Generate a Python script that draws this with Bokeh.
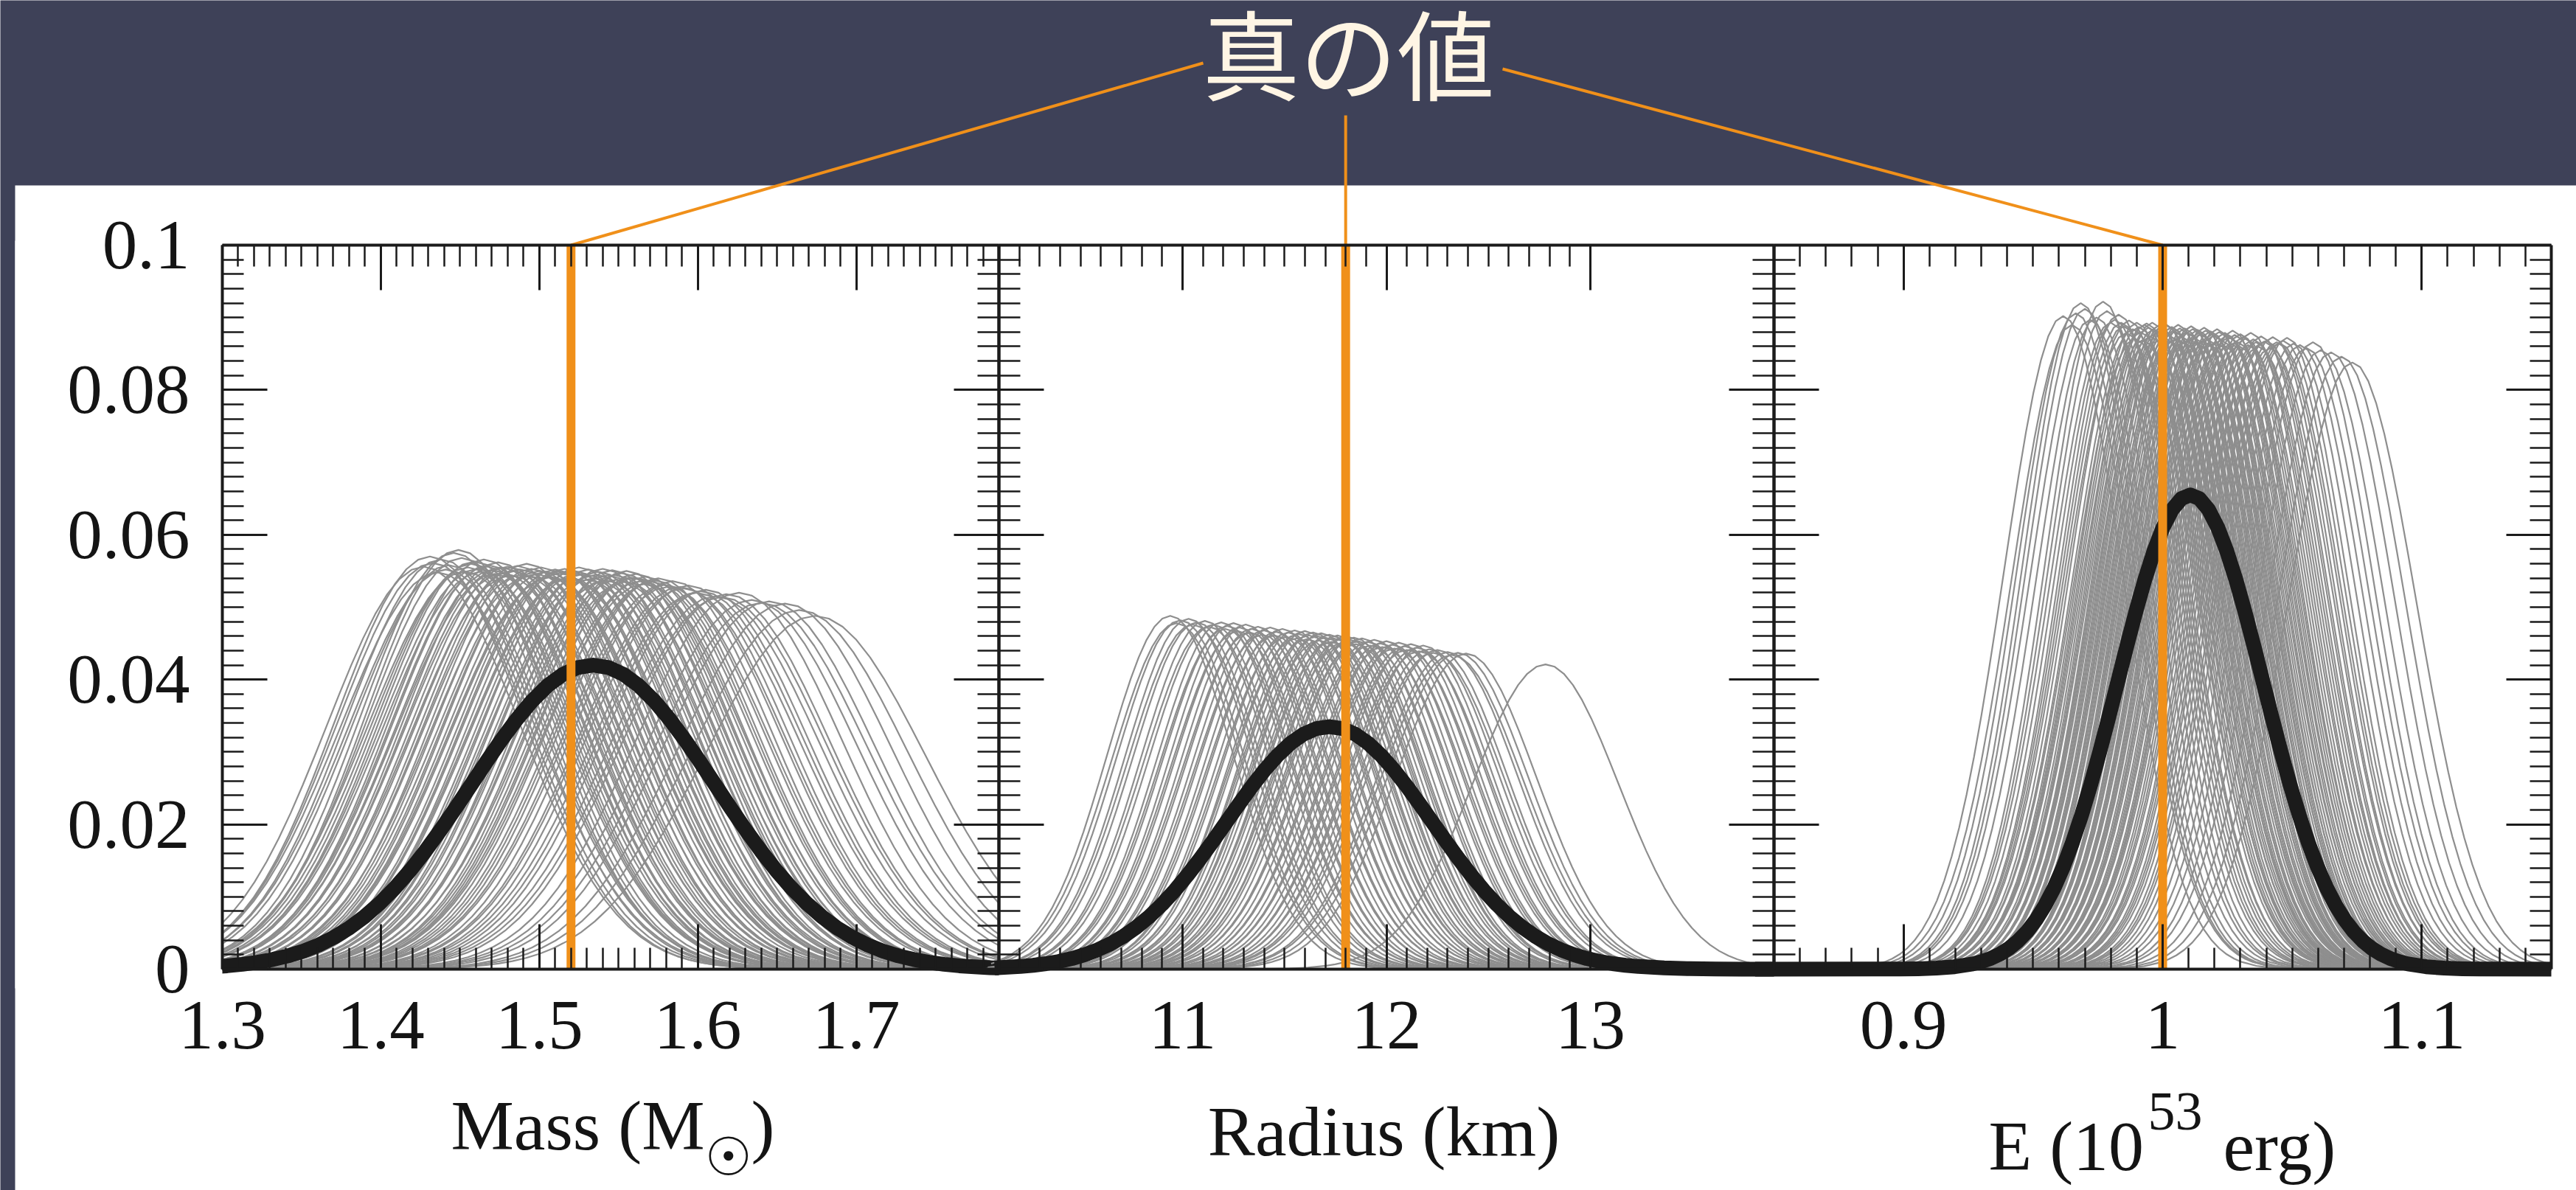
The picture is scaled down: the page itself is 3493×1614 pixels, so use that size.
from bokeh.plotting import figure
from bokeh.models import Range1d, LinearAxis, FixedTicker, ColumnDataSource, CustomJSTickFormatter
from bokeh.core.properties import value
from bokeh.embed import file_html
from bokeh.resources import INLINE

# ---------------- values ----------------
# thin grey curves: peak position and peak height of every curve
mass_peak = [1.427, 1.431, 1.436, 1.441, 1.446, 1.449, 1.453, 1.457, 1.461, 1.465,
             1.468, 1.471, 1.474, 1.477, 1.480, 1.483, 1.486, 1.489, 1.492, 1.495,
             1.498, 1.501, 1.504, 1.507, 1.510, 1.513, 1.516, 1.519, 1.522, 1.525,
             1.528, 1.531, 1.534, 1.537, 1.540, 1.543, 1.546, 1.549, 1.552, 1.555,
             1.558, 1.561, 1.564, 1.567, 1.571, 1.575, 1.579, 1.584, 1.589, 1.594,
             1.599, 1.605, 1.611, 1.618, 1.626, 1.634, 1.645, 1.655, 1.664, 1.674,
             1.433, 1.438, 1.443, 1.451, 1.455, 1.459, 1.463, 1.467, 1.472, 1.476,
             1.482, 1.488, 1.494, 1.500, 1.506, 1.512, 1.518, 1.524, 1.530, 1.536,
             1.542, 1.548, 1.554, 1.560, 1.566, 1.573, 1.581, 1.591, 1.602, 1.615, 1.640]
mass_height = [0.0556, 0.0570, 0.0548, 0.0552, 0.0575, 0.0579, 0.0549, 0.0560, 0.0553, 0.0566,
               0.0558, 0.0551, 0.0562, 0.0547, 0.0556, 0.0550, 0.0557, 0.0545, 0.0560, 0.0553,
               0.0546, 0.0555, 0.0549, 0.0542, 0.0552, 0.0547, 0.0553, 0.0541, 0.0550, 0.0555,
               0.0546, 0.0552, 0.0540, 0.0549, 0.0553, 0.0544, 0.0551, 0.0538, 0.0547, 0.0550,
               0.0541, 0.0546, 0.0536, 0.0542, 0.0535, 0.0540, 0.0531, 0.0536, 0.0528, 0.0530,
               0.0520, 0.0524, 0.0515, 0.0518, 0.0520, 0.0510, 0.0508, 0.0505, 0.0496, 0.0488,
               0.0561, 0.0566, 0.0558, 0.0568, 0.0555, 0.0563, 0.0549, 0.0556, 0.0546, 0.0555,
               0.0544, 0.0552, 0.0543, 0.0550, 0.0541, 0.0549, 0.0540, 0.0546, 0.0538, 0.0545,
               0.0537, 0.0544, 0.0535, 0.0541, 0.0532, 0.0537, 0.0528, 0.0526, 0.0522, 0.0514, 0.0506]

radius_peak = [10.94, 10.99, 11.03, 11.07, 11.11, 11.15, 11.19, 11.22, 11.25, 11.28,
               11.31, 11.34, 11.37, 11.40, 11.43, 11.46, 11.49, 11.52, 11.55, 11.57,
               11.60, 11.62, 11.64, 11.66, 11.68, 11.70, 11.72, 11.74, 11.76, 11.78,
               11.80, 11.82, 11.84, 11.86, 11.88, 11.91, 11.94, 11.97, 12.00, 12.03,
               12.06, 12.09, 12.12, 12.15, 12.18, 12.21, 12.25, 12.30, 12.35, 12.39, 12.78,
               10.97, 11.05, 11.13, 11.21, 11.27, 11.33, 11.39, 11.45, 11.51, 11.56,
               11.61, 11.67, 11.73, 11.79, 11.85, 11.92, 11.98, 12.04, 12.10, 12.16,
               12.23, 12.32]
radius_height = [0.0488, 0.0482, 0.0484, 0.0479, 0.0481, 0.0476, 0.0479, 0.0474, 0.0478, 0.0472,
                 0.0476, 0.0470, 0.0473, 0.0468, 0.0472, 0.0466, 0.0470, 0.0465, 0.0468, 0.0463,
                 0.0467, 0.0461, 0.0465, 0.0460, 0.0464, 0.0458, 0.0462, 0.0457, 0.0461, 0.0456,
                 0.0460, 0.0455, 0.0458, 0.0453, 0.0457, 0.0452, 0.0455, 0.0450, 0.0453, 0.0448,
                 0.0451, 0.0446, 0.0449, 0.0444, 0.0447, 0.0442, 0.0441, 0.0438, 0.0437, 0.0436, 0.0421,
                 0.0478, 0.0476, 0.0473, 0.0470, 0.0467, 0.0465, 0.0462, 0.0461, 0.0459, 0.0457,
                 0.0456, 0.0454, 0.0452, 0.0451, 0.0449, 0.0447, 0.0445, 0.0443, 0.0441, 0.0439,
                 0.0437, 0.0434]

energy_peak = [0.9616, 0.9650, 0.9684, 0.9720, 0.9770, 0.9800, 0.9830, 0.9850, 0.9870, 0.9885,
               0.9900, 0.9915, 0.9930, 0.9945, 0.9960, 0.9972, 0.9985, 0.9997, 1.0010, 1.0022,
               1.0035, 1.0047, 1.0060, 1.0072, 1.0085, 1.0097, 1.0110, 1.0122, 1.0135, 1.0147,
               1.0160, 1.0172, 1.0185, 1.0197, 1.0210, 1.0225, 1.0240, 1.0255, 1.0270, 1.0285,
               1.0300, 1.0320, 1.0340, 1.0360, 1.0380, 1.0400, 1.0425, 1.0450, 1.0480, 1.0530,
               1.0580, 1.0650, 1.0732,
               0.9665, 0.9700, 0.9745, 0.9785, 0.9815, 0.9840, 0.9860, 0.9893, 0.9908, 0.9923,
               0.9938, 0.9952, 0.9966, 0.9979, 0.9991, 1.0004, 1.0016, 1.0029, 1.0041, 1.0054,
               1.0066, 1.0079, 1.0091, 1.0104, 1.0116, 1.0129, 1.0141, 1.0154, 1.0166, 1.0179,
               1.0191, 1.0204, 1.0218, 1.0233, 1.0248, 1.0263, 1.0278, 1.0293, 1.0310, 1.0330,
               1.0350, 1.0370, 1.0392, 1.0415, 1.0440, 1.0465, 1.0505, 1.0555, 1.0610, 1.0690]
energy_height = [0.0902, 0.0890, 0.0920, 0.0897, 0.0922, 0.0893, 0.0904, 0.0888, 0.0896, 0.0884,
                 0.0893, 0.0880, 0.0890, 0.0886, 0.0893, 0.0878, 0.0889, 0.0883, 0.0891, 0.0876,
                 0.0887, 0.0881, 0.0890, 0.0874, 0.0885, 0.0879, 0.0888, 0.0872, 0.0883, 0.0877,
                 0.0886, 0.0870, 0.0881, 0.0875, 0.0884, 0.0869, 0.0879, 0.0873, 0.0882, 0.0867,
                 0.0877, 0.0871, 0.0879, 0.0866, 0.0874, 0.0868, 0.0873, 0.0865, 0.0872, 0.0862,
                 0.0866, 0.0852, 0.0838,
                 0.0906, 0.0912, 0.0900, 0.0909, 0.0897, 0.0893, 0.0879, 0.0871, 0.0887, 0.0869,
                 0.0892, 0.0874, 0.0884, 0.0868, 0.0886, 0.0873, 0.0889, 0.0867, 0.0882, 0.0871,
                 0.0885, 0.0866, 0.0880, 0.0870, 0.0884, 0.0865, 0.0879, 0.0868, 0.0882, 0.0863,
                 0.0877, 0.0866, 0.0880, 0.0862, 0.0875, 0.0864, 0.0876, 0.0861, 0.0873, 0.0862,
                 0.0870, 0.0860, 0.0867, 0.0858, 0.0866, 0.0868, 0.0864, 0.0858, 0.0855, 0.0846]

# peak height x width of a thin curve (one value per panel)
mass_area = 0.00339
radius_area = 0.0151
energy_area = 0.00207

# thick black curve: centre, peak height, width
mass_mean = [1.534, 0.0420, 0.077]
radius_mean = [11.72, 0.0335, 0.505]
energy_mean = [1.0107, 0.0655, 0.028]

# true values (orange lines)
true_value = [1.52, 11.8, 1.0]

# normalised bell shape of one curve (half)
shape_u = [0.0, 0.125, 0.25, 0.375, 0.5, 0.625, 0.75, 0.875, 1.0, 1.125, 1.25, 1.375,
           1.5, 1.625, 1.75, 1.875, 2.0, 2.125, 2.25, 2.375, 2.5, 2.625, 2.75, 2.875,
           3.0, 3.25, 3.5, 3.75, 4.0]
shape_v = [1.0, 0.99222, 0.96923, 0.93210, 0.88250, 0.82258, 0.75484, 0.68194, 0.60653,
           0.53110, 0.45783, 0.38857, 0.32465, 0.26706, 0.21627, 0.17240, 0.13534, 0.10459,
           0.07956, 0.05959, 0.04394, 0.03190, 0.02282, 0.01604, 0.01111, 0.00508, 0.00219,
           0.00089, 0.00034]

mass_limits = [1.3, 1.79]
radius_limits = [10.1, 13.9]
energy_limits = [0.85, 1.15]
density_limits = [0.0, 0.1]

mass_ticks = [1.3, 1.4, 1.5, 1.6, 1.7]
mass_labels = ["1.3", "1.4", "1.5", "1.6", "1.7"]
radius_ticks = [11, 12, 13]
radius_labels = ["11", "12", "13"]
energy_ticks = [0.9, 1.0, 1.1]
energy_labels = ["0.9", "1", "1.1"]
density_ticks = [0.0, 0.02, 0.04, 0.06, 0.08, 0.1]
density_labels = ["0", "0.02", "0.04", "0.06", "0.08", "0.1"]

mass_minor = [round(1.31 + 0.01 * i, 2) for i in range(48)]
radius_minor = [round(10.2 + 0.1 * i, 1) for i in range(29)]
energy_minor = [round(0.86 + 0.01 * i, 2) for i in range(29)]
density_minor = [round(0.002 * i, 3) for i in range(1, 50)]

title_text = "真の値"

# ---------------- layout / style ----------------
W, H = 3493, 1614
STRIP, HEADER = 20, 251
EDGE = [301, 1354, 2405, 3459]
TOP, BOT = 332, 1314

DARK = "#3e4158"
ORANGE = "#f0901a"
GREY = "#8e8e8e"
INK = "#1b1b1b"
CREAM = "#fff5e4"
SERIF = "Liberation Serif"


def panel_range(lo, hi, left, right):
    s = (hi - lo) / (right - left)
    return Range1d(lo - left * s, lo + (W - left) * s)


s_y = (density_limits[1] - density_limits[0]) / (BOT - TOP)
dens_range = Range1d(density_limits[0] - (H - BOT) * s_y, density_limits[1] + TOP * s_y)

p = figure(width=W, height=H, x_range=Range1d(0, W), y_range=Range1d(H, 0),
           x_axis_type=None, y_axis_type=None, toolbar_location=None,
           output_backend="svg", min_border=0, outline_line_color=None,
           background_fill_color=DARK, border_fill_color=DARK)

panels = [
    dict(name="mass", lim=mass_limits, peaks=mass_peak, heights=mass_height, area=mass_area,
         mean=mass_mean, ticks=mass_ticks, labels=mass_labels, minor=mass_minor),
    dict(name="radius", lim=radius_limits, peaks=radius_peak, heights=radius_height, area=radius_area,
         mean=radius_mean, ticks=radius_ticks, labels=radius_labels, minor=radius_minor),
    dict(name="energy", lim=energy_limits, peaks=energy_peak, heights=energy_height, area=energy_area,
         mean=energy_mean, ticks=energy_ticks, labels=energy_labels, minor=energy_minor),
]

p.extra_x_ranges = {pn["name"]: panel_range(pn["lim"][0], pn["lim"][1], EDGE[i], EDGE[i + 1])
                    for i, pn in enumerate(panels)}
p.extra_y_ranges = {"dens": dens_range}

# white sheet under the dark header
p.quad(left=[STRIP], right=[W], top=[HEADER], bottom=[H], fill_color="white", line_color=None)

u_full = [-u for u in reversed(shape_u[1:])] + shape_u
v_full = list(reversed(shape_v[1:])) + shape_v
u_wide = [-6.0] + u_full + [6.0]
v_wide = [0.0] + v_full + [0.0]


def keep_inside(xs, ys, lo, hi):
    idx = [i for i, x in enumerate(xs) if lo <= x <= hi]
    if not idx:
        return [], []
    a = max(idx[0] - 1, 0)
    b = min(idx[-1] + 1, len(xs) - 1)
    return xs[a:b + 1], ys[a:b + 1]


def curtain(x0, x1):
    p.quad(left=[x0], right=[x1], top=[TOP - 6], bottom=[BOT + 26], fill_color="white", line_color=None)


for i, pn in enumerate(panels):
    lo, hi = pn["lim"]
    xs_all, ys_all = [], []
    for c, h in zip(pn["peaks"], pn["heights"]):
        w = pn["area"] / h
        xs = [c + w * u for u in u_full]
        ys = [h * v for v in v_full]
        xs, ys = keep_inside(xs, ys, lo, hi)
        xs_all.append(xs)
        ys_all.append(ys)
    src = ColumnDataSource(dict(xs=xs_all, ys=ys_all))
    p.multi_line(xs="xs", ys="ys", source=src, x_range_name=pn["name"], y_range_name="dens",
                 line_color=GREY, line_width=2.2)

    c, h, w = pn["mean"]
    bx = [c + w * u for u in u_wide]
    by = [h * v for v in v_wide]
    bx, by = keep_inside(bx, by, lo, hi)
    p.line(bx, by, x_range_name=pn["name"], y_range_name="dens",
           line_color=INK, line_width=20, line_join="round")

    if i == 0:
        curtain(STRIP, EDGE[0])
    curtain(EDGE[i + 1], W)

# orange "true value" lines
tv_px = []
for i, pn in enumerate(panels):
    lo, hi = pn["lim"]
    tv = true_value[i]
    p.segment(x0=[tv], y0=[density_limits[0]], x1=[tv], y1=[density_limits[1]],
              x_range_name=pn["name"], y_range_name="dens",
              line_color=ORANGE, line_width=12)
    tv_px.append(EDGE[i] + (tv - lo) / (hi - lo) * (EDGE[i + 1] - EDGE[i]))

p.segment(x0=[1631, tv_px[1], 2037], y0=[85, 156, 93], x1=tv_px, y1=[TOP, TOP, TOP],
          line_color=ORANGE, line_width=4)

p.text(x=[1828], y=[68], text=[title_text], text_font=value("Noto Sans CJK JP"),
       text_font_size="132px", text_color=CREAM, text_align="center", text_baseline="middle")


# axis titles
def label(x, y, txt, size="96px", align="left", font=SERIF):
    p.text(x=[x], y=[y], text=[txt], text_font=value(font), text_font_size=size,
           text_color="#141414", text_align=align, text_baseline="alphabetic")


label(611, 1526, "Mass (M")
label(955, 1568, "☉", size="72px", font="DejaVu Sans")
label(1018, 1526, ")")
label(1876, 1534, "Radius (km)", align="center")
label(2696, 1554, "E (10")
label(2912, 1507, "53", size="74px")
label(3014, 1554, "erg)")


# axes (ticks pointing inwards on every side of every panel)
def make_axis(side, rng_name, limits, ticks, labels, minor, loc, show):
    kw = dict(fixed_location=loc, bounds=(limits[0], limits[1]),
              ticker=FixedTicker(ticks=ticks, minor_ticks=minor),
              axis_line_color=INK, axis_line_width=4,
              major_tick_in=61, major_tick_out=0, minor_tick_in=29, minor_tick_out=0,
              major_tick_line_color=INK, major_tick_line_width=3,
              minor_tick_line_color=INK, minor_tick_line_width=2.5)
    if side in ("below", "above"):
        kw["x_range_name"] = rng_name
    else:
        kw["y_range_name"] = rng_name
    ax = LinearAxis(**kw)
    if show:
        ax.major_label_overrides = {t: l for t, l in zip(ticks, labels)}
        ax.major_label_text_font = SERIF
        ax.major_label_text_font_size = "95px"
        ax.major_label_text_color = "#141414"
        ax.major_label_standoff = 44
    else:
        ax.formatter = CustomJSTickFormatter(code="return ''")
    p.add_layout(ax, side)


for i, pn in enumerate(panels):
    make_axis("below", pn["name"], pn["lim"], pn["ticks"], pn["labels"], pn["minor"], BOT, True)
    make_axis("above", pn["name"], pn["lim"], pn["ticks"], pn["labels"], pn["minor"], TOP, False)
    make_axis("left", "dens", density_limits, density_ticks, density_labels, density_minor,
              EDGE[i], i == 0)
    make_axis("right", "dens", density_limits, density_ticks, density_labels, density_minor,
              EDGE[i + 1], False)

with open("out.html", "w", encoding="utf-8") as f:
    f.write(file_html(p, INLINE, title="true values"))
